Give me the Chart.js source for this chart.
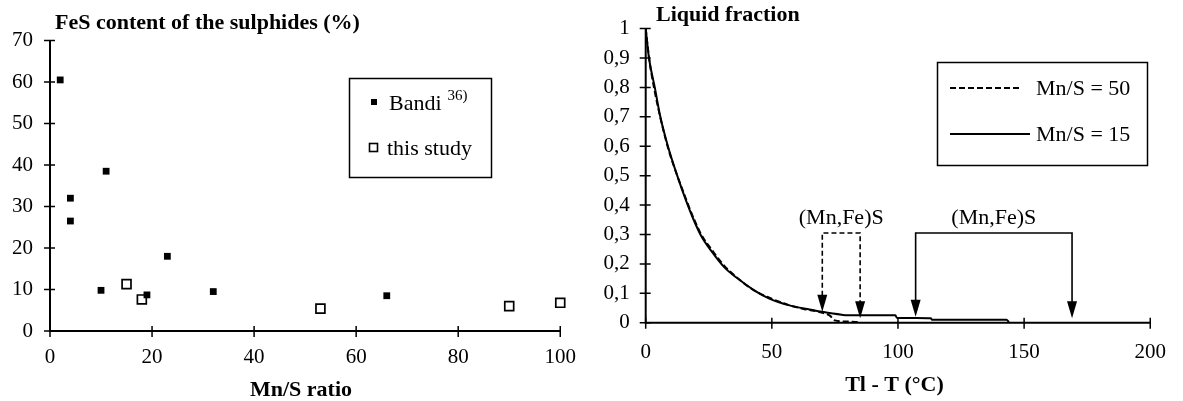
<!DOCTYPE html>
<html><head><meta charset="utf-8">
<script src="https://cdn.jsdelivr.net/npm/chart.js@4.4.1/dist/chart.umd.min.js"></script>
<style>
html,body{margin:0;padding:0;background:#fff;}
#w{position:relative;width:1183px;height:401px;overflow:hidden;}
#c1{position:absolute;left:0;top:0;width:590px;height:401px;}
#c2{position:absolute;left:590px;top:0;width:593px;height:401px;}
</style></head><body>
<div id="w"><div id="c1"><canvas id="a"></canvas></div><div id="c2"><canvas id="b"></canvas></div></div>
<script>
// ---- Left chart data ----
const bandiLabel = 'Bandi';
const bandiRef = '36)';
const bandiX = [2, 4, 4, 11, 10, 19, 23, 32, 66];
const bandiY = [60.5, 32, 26.5, 38.5, 9.8, 8.7, 18, 9.5, 8.5];
const studyLabel = 'this study';
const studyX = [15, 18, 53, 90, 100];
const studyY = [11.3, 7.6, 5.4, 6.0, 6.8];
const leftXTicks = [0, 20, 40, 60, 80, 100];
const leftYTicks = [0, 10, 20, 30, 40, 50, 60, 70];
const leftTitle = 'FeS content of the sulphides (%)';
const leftXTitle = 'Mn/S ratio';

// ---- Right chart data ----
const label15 = 'Mn/S = 15';
const temp15 = [0, 1.3, 3.6, 5.8, 8.8, 12.5, 16, 19, 22, 26, 31, 36.5, 43, 49, 57, 65, 70, 77.7, 80, 99, 99.5, 113, 113.5, 143, 144];
const frac15 = [1, 0.9, 0.8, 0.7, 0.6, 0.5, 0.415, 0.35, 0.295, 0.244, 0.19, 0.15, 0.11, 0.082, 0.059, 0.045, 0.037, 0.027, 0.025, 0.025, 0.017, 0.015, 0.01, 0.01, 0.002];
const label50 = 'Mn/S = 50';
const temp50 = [0, 1.5, 3.5, 6, 9, 12.5, 16, 19, 22, 26, 31, 36, 42, 49, 56, 63, 70, 73, 75, 80, 85];
const frac50 = [1, 0.89, 0.79, 0.69, 0.59, 0.5, 0.42, 0.355, 0.3, 0.25, 0.195, 0.155, 0.115, 0.085, 0.062, 0.046, 0.034, 0.024, 0.008, 0.004, 0.002];
const rightXTicks = [0, 50, 100, 150, 200];
const rightYTicks = [0, 0.1, 0.2, 0.3, 0.4, 0.5, 0.6, 0.7, 0.8, 0.9, 1];
const rightTitle = 'Liquid fraction';
const rightXTitle = 'Tl - T (°C)';
const phaseLabel = '(Mn,Fe)S';
const bracket50X = [70, 85];
const bracket50Tip = [0.037, 0.015];
const bracket15X = [107, 169];
const bracket15Tip = [0.02, 0.015];
const bracketTopY = 0.305;

const FONT = "'Liberation Serif','Times New Roman',serif";

function drawAxes(chart, xt, yt) {
  const {ctx, chartArea: a, scales: {x, y}} = chart;
  ctx.save();
  ctx.strokeStyle = '#000';
  ctx.lineWidth = 2;
  ctx.beginPath();
  ctx.moveTo(a.left, y.getPixelForValue(yt[yt.length - 1]));
  ctx.lineTo(a.left, a.bottom);
  ctx.lineTo(x.getPixelForValue(xt[xt.length - 1]), a.bottom);
  ctx.stroke();
  ctx.lineWidth = 1.5;
  ctx.beginPath();
  xt.forEach(v => { const p = x.getPixelForValue(v); ctx.moveTo(p, a.bottom - 5); ctx.lineTo(p, a.bottom + 6); });
  yt.forEach(v => { const p = y.getPixelForValue(v); ctx.moveTo(a.left - 6, p); ctx.lineTo(a.left + 5, p); });
  ctx.stroke();
  ctx.restore();
}

function square(ctx, cx, cy, s, filled) {
  if (filled) { ctx.fillRect(cx - s / 2, cy - s / 2, s, s); }
  else { ctx.lineWidth = 1.6; ctx.strokeRect(cx - s / 2, cy - s / 2, s, s); }
}

const leftPlugin = {
  id: 'leftDeco',
  beforeDatasetsDraw(chart) { drawAxes(chart, leftXTicks, leftYTicks); },
  afterDraw(chart) {
    const ctx = chart.ctx;
    const ds = chart.data.datasets;
    ctx.save();
    ctx.fillStyle = '#000'; ctx.strokeStyle = '#000';
    ctx.textBaseline = 'middle';
    ctx.font = 'bold 22px ' + FONT;
    ctx.textAlign = 'left';
    ctx.fillText(leftTitle, 55, 23);
    ctx.textAlign = 'center';
    ctx.fillText(leftXTitle, 301, 390);
    // legend
    ctx.lineWidth = 1.5;
    ctx.strokeRect(349.5, 78.5, 142, 99);
    ctx.font = '22px ' + FONT;
    ctx.textAlign = 'left';
    square(ctx, 374, 102, 6, true);
    ctx.fillText(ds[0].label, 389, 104);
    const w = ctx.measureText(ds[0].label).width;
    ctx.font = '15px ' + FONT;
    ctx.fillText(bandiRef, 389 + w + 6, 96);
    ctx.font = '22px ' + FONT;
    square(ctx, 373.5, 147.5, 8, false);
    ctx.fillText(ds[1].label, 387, 149);
    ctx.restore();
  }
};

const rightPlugin = {
  id: 'rightDeco',
  beforeDatasetsDraw(chart) { drawAxes(chart, rightXTicks, rightYTicks); },
  afterDraw(chart) {
    const {ctx, scales: {x, y}} = chart;
    ctx.save();
    ctx.fillStyle = '#000'; ctx.strokeStyle = '#000';
    ctx.textBaseline = 'middle';
    ctx.font = 'bold 22px ' + FONT;
    ctx.textAlign = 'left';
    ctx.fillText(rightTitle, 66, 15);
    ctx.textAlign = 'center';
    ctx.fillText(rightXTitle, 304.5, 385);
    // brackets
    function bracket(xs, tips, dash) {
      const yTop = y.getPixelForValue(bracketTopY);
      const p0 = x.getPixelForValue(xs[0]), p1 = x.getPixelForValue(xs[1]);
      ctx.lineWidth = 1.6;
      ctx.setLineDash(dash);
      ctx.beginPath();
      const t0 = y.getPixelForValue(tips[0]) - 16, t1 = y.getPixelForValue(tips[1]) - 16;
      ctx.moveTo(p0, t0); ctx.lineTo(p0, yTop); ctx.lineTo(p1, yTop); ctx.lineTo(p1, t1);
      ctx.stroke();
      ctx.setLineDash([]);
      [[p0, tips[0]], [p1, tips[1]]].forEach(([p, v]) => {
        const ty = y.getPixelForValue(v);
        ctx.beginPath(); ctx.moveTo(p, ty); ctx.lineTo(p - 5, ty - 17); ctx.lineTo(p + 5, ty - 17); ctx.closePath(); ctx.fill();
      });
      ctx.font = '22px ' + FONT;
      ctx.textAlign = 'center';
      ctx.fillText(phaseLabel, (p0 + p1) / 2, yTop - 15);
    }
    bracket(bracket50X, bracket50Tip, [5, 3]);
    bracket(bracket15X, bracket15Tip, []);
    // legend
    const ds = chart.data.datasets;
    ctx.lineWidth = 1.5;
    ctx.strokeRect(347.5, 62.5, 210, 103);
    ctx.lineWidth = 2;
    ctx.setLineDash([6, 3]);
    ctx.beginPath(); ctx.moveTo(360, 88); ctx.lineTo(432, 88); ctx.stroke();
    ctx.setLineDash([]);
    ctx.beginPath(); ctx.moveTo(360, 134); ctx.lineTo(440, 134); ctx.stroke();
    ctx.font = '22px ' + FONT;
    ctx.textAlign = 'left';
    ctx.fillText(ds[1].label, 446, 89);
    ctx.fillText(ds[0].label, 446, 135);
    ctx.restore();
  }
};

const tickFont = {family: FONT, size: 21};

new Chart(document.getElementById('a'), {
  type: 'scatter',
  data: {
    datasets: [
      {label: bandiLabel, data: bandiX.map((v, i) => ({x: v, y: bandiY[i]})), pointStyle: 'rect', pointRadius: 4.8, backgroundColor: '#000', borderColor: '#000', borderWidth: 0, clip: false},
      {label: studyLabel, data: studyX.map((v, i) => ({x: v, y: studyY[i]})), pointStyle: 'rect', pointRadius: 6.3, backgroundColor: '#fff', borderColor: '#000', borderWidth: 1.7, clip: false}
    ]
  },
  options: {
    responsive: true, maintainAspectRatio: false, animation: false,
    layout: {padding: {top: 40.5, right: 29, bottom: 0, left: 0}},
    plugins: {legend: {display: false}, tooltip: {enabled: false}},
    scales: {
      x: {type: 'linear', min: 0, max: 100,
        afterBuildTicks: s => { s.ticks = leftXTicks.map(v => ({value: v})); },
        afterFit: s => { s.height = 70; },
        grid: {display: false, drawTicks: false}, border: {display: false},
        ticks: {color: '#000', font: tickFont, padding: 14, maxRotation: 0}},
      y: {type: 'linear', min: 0, max: 70,
        afterBuildTicks: s => { s.ticks = leftYTicks.map(v => ({value: v})); },
        afterFit: s => { s.width = 50; },
        grid: {display: false, drawTicks: false}, border: {display: false},
        ticks: {color: '#000', font: tickFont, padding: 17}}
    }
  },
  plugins: [leftPlugin]
});

const fmt = v => (v === 0 || v === 1) ? String(v) : v.toFixed(1).replace('.', ',');

new Chart(document.getElementById('b'), {
  type: 'line',
  data: {
    datasets: [
      {label: label15, data: temp15.map((v, i) => ({x: v, y: frac15[i]})), borderColor: '#000', borderWidth: 2, pointRadius: 0, cubicInterpolationMode: 'monotone', fill: false},
      {label: label50, data: temp50.map((v, i) => ({x: v, y: frac50[i]})), borderColor: '#000', borderWidth: 2, borderDash: [6, 3], pointRadius: 0, cubicInterpolationMode: 'monotone', fill: false}
    ]
  },
  options: {
    responsive: true, maintainAspectRatio: false, animation: false,
    layout: {padding: {top: 24.7, right: 22, bottom: 0, left: 0}},
    plugins: {legend: {display: false}, tooltip: {enabled: false}},
    scales: {
      x: {type: 'linear', min: 0, max: 200,
        afterBuildTicks: s => { s.ticks = rightXTicks.map(v => ({value: v})); },
        afterFit: s => { s.height = 78.3; },
        grid: {display: false, drawTicks: false}, border: {display: false},
        ticks: {color: '#000', font: tickFont, padding: 17, maxRotation: 0}},
      y: {type: 'linear', min: 0, max: 1,
        afterBuildTicks: s => { s.ticks = rightYTicks.map(v => ({value: v})); },
        afterFit: s => { s.width = 55.7; },
        grid: {display: false, drawTicks: false}, border: {display: false},
        ticks: {color: '#000', font: tickFont, padding: 16, callback: fmt}}
    }
  },
  plugins: [rightPlugin]
});
</script>
</body></html>
